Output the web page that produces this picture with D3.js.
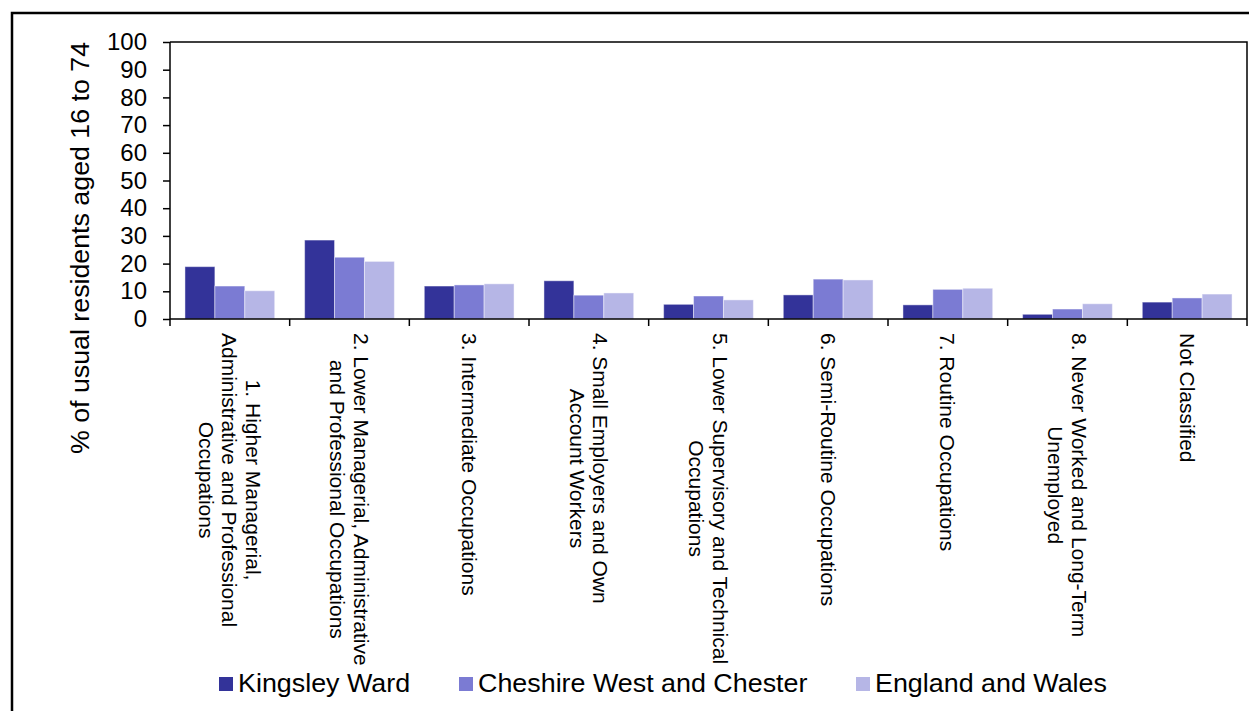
<!DOCTYPE html>
<html>
<head>
<meta charset="utf-8">
<script src="https://cdn.jsdelivr.net/npm/d3@7"></script>
<style>
  body { margin: 0; background: #fff; }
  svg { display: block; font-family: "Liberation Sans", Arial, sans-serif; }
</style>
</head>
<body>
<div id="chart"></div>
<script>
// categories, split into the lines used on the axis
var categories = [
  ["1. Higher Managerial,", "Administrative and Professional", "Occupations"],
  ["2. Lower Managerial, Administrative", "and Professional Occupations"],
  ["3. Intermediate Occupations"],
  ["4. Small Employers and Own", "Account Workers"],
  ["5. Lower Supervisory and Technical", "Occupations"],
  ["6. Semi-Routine Occupations"],
  ["7. Routine Occupations"],
  ["8. Never Worked and Long-Term", "Unemployed"],
  ["Not Classified"]
];
var seriesNames = ["Kingsley Ward", "Cheshire West and Chester", "England and Wales"];
var kingsley = [18.9, 28.5, 11.9, 13.8, 5.3, 8.7, 5.1, 1.7, 6.1];
var cheshire = [11.9, 22.3, 12.3, 8.6, 8.3, 14.4, 10.7, 3.6, 7.6];
var england  = [10.2, 20.8, 12.7, 9.4, 6.9, 14.1, 11.1, 5.5, 9.0];
var yTicks = [0, 10, 20, 30, 40, 50, 60, 70, 80, 90, 100];
var yTitle = "% of usual residents aged 16 to 74";

var colors = ["#333399", "#7b7bd3", "#b6b6e6"];
var W = 1249, H = 711;
var plot = {left: 170, right: 1247, top: 42, bottom: 319};

var svg = d3.select("#chart").append("svg")
    .attr("width", W).attr("height", H);

// outer frame (runs off the picture on the right and bottom)
svg.append("rect")
    .attr("x", 12).attr("y", 13)
    .attr("width", W + 20).attr("height", H + 20)
    .attr("fill", "none").attr("stroke", "#000").attr("stroke-width", 2.5);

var keys = categories.map(function(d, i) { return i; });

var x = d3.scaleBand()
    .domain(keys)
    .range([plot.left, plot.right])
    .paddingInner(0.25)
    .paddingOuter(0.125);

var xs = d3.scaleBand()
    .domain([0, 1, 2])
    .range([0, x.bandwidth()]);

var y = d3.scaleLinear()
    .domain([0, 100])
    .range([plot.bottom, plot.top]);

var allSeries = [kingsley, cheshire, england];

// plot area border (top + right)
svg.append("path")
    .attr("d", "M" + plot.left + "," + plot.top + "H" + plot.right + "V" + plot.bottom)
    .attr("fill", "none").attr("stroke", "#000").attr("stroke-width", 1.5);

// bars
allSeries.forEach(function(vals, s) {
    svg.append("g").selectAll("rect")
        .data(vals)
        .enter()
        .append("rect")
        .attr("x", function(d, i) { return x(i) + xs(s); })
        .attr("y", function(d) { return y(d); })
        .attr("width", xs.bandwidth())
        .attr("height", function(d) { return y(0) - y(d); })
        .attr("fill", colors[s])
        .attr("stroke", "rgba(255,255,255,0.45)")
        .attr("stroke-width", 1);
});

// y axis
var yAxis = svg.append("g")
    .attr("transform", "translate(" + plot.left + ",0)")
    .call(d3.axisLeft(y).tickValues(yTicks).tickSize(7).tickPadding(16));
yAxis.selectAll("text").style("font-size", "24px").attr("fill", "#000");
yAxis.selectAll("line, path").attr("stroke", "#000").attr("stroke-width", 1.5);
yAxis.select(".domain").attr("d", "M0," + plot.top + "V" + plot.bottom);

// x axis: line plus ticks on band boundaries
var step = x.step();
var boundaries = keys.map(function(i) { return x(i) - x.paddingInner() * step / 2; });
boundaries.push(plot.right);
var xAxis = svg.append("g");
xAxis.append("line")
    .attr("x1", plot.left).attr("x2", plot.right)
    .attr("y1", plot.bottom).attr("y2", plot.bottom)
    .attr("stroke", "#000").attr("stroke-width", 1.5);
xAxis.selectAll(".tk")
    .data(boundaries)
    .enter()
    .append("line")
    .attr("x1", function(d) { return d; }).attr("x2", function(d) { return d; })
    .attr("y1", plot.bottom).attr("y2", plot.bottom + 7)
    .attr("stroke", "#000").attr("stroke-width", 1.5);

// category labels, rotated, lines centred on each other
var lh = 23.5;
categories.forEach(function(lines, i) {
    var g = svg.append("g")
        .attr("transform", "translate(" + (x(i) + x.bandwidth() / 2) + ",333) rotate(90)");
    var texts = lines.map(function(t, j) {
        return g.append("text")
            .attr("y", (j - (lines.length - 1) / 2) * lh)
            .attr("dy", "0.35em")
            .attr("text-anchor", "middle")
            .style("font-size", "21px")
            .text(t);
    });
    var maxW = d3.max(texts, function(t) { return t.node().getComputedTextLength(); });
    texts.forEach(function(t) { t.attr("x", maxW / 2); });
});

// y title
svg.append("text")
    .attr("transform", "translate(89,248) rotate(-90) scale(1.03,1)")
    .attr("text-anchor", "middle")
    .style("font-size", "26px")
    .text(yTitle);

// legend (glyphs a little wider than plain Arial in the original)
var legendX = [219, 459, 856];
var legend = svg.append("g").selectAll("g")
    .data(seriesNames)
    .enter()
    .append("g")
    .attr("transform", function(d, i) { return "translate(" + legendX[i] + ",677)"; });
legend.append("rect")
    .attr("width", 14).attr("height", 14)
    .attr("fill", function(d, i) { return colors[i]; });
legend.append("text")
    .attr("transform", "translate(19,15) scale(1.075,1)")
    .style("font-size", "25px")
    .text(function(d) { return d; });
</script>
</body>
</html>
